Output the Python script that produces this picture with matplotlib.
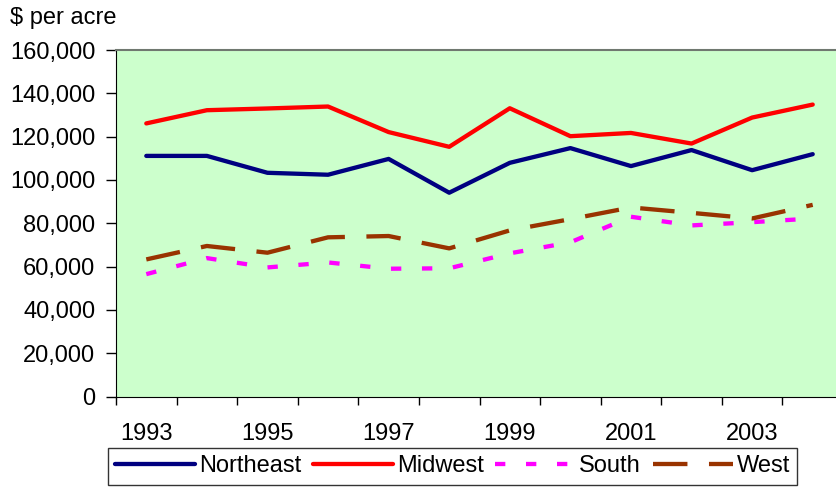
import numpy as np
import matplotlib.pyplot as plt

plt.rcParams['font.family'] = ['Liberation Sans', 'DejaVu Sans']

# данные: средняя стоимость земли, $ за акр
years = np.arange(1993, 2005)
northeast = [111100, 111100, 103300, 102400, 109700, 94100, 107900, 114700, 106400, 113800, 104500, 111900]
midwest = [126100, 132200, 133000, 133900, 122100, 115300, 133100, 120200, 121700, 116800, 128800, 134800]
south = [56500, 63900, 59600, 61900, 59000, 59200, 66100, 71200, 83000, 79000, 80500, 82200]
west = [63300, 69500, 66400, 73500, 74100, 68400, 76700, 81900, 87300, 84800, 82200, 88500]
year_labels = ['1993', '1995', '1997', '1999', '2001', '2003']

fig = plt.figure(figsize=(8.37, 4.87), dpi=100)
# правый край области графика выходит за пределы картинки, как в оригинале
ax = fig.add_axes([116 / 837, 90.5 / 487, 727 / 837, 346.5 / 487])
ax.set_facecolor('#CCFFCC')

lw = 3.1
ax.plot(years, northeast, color='#000080', lw=lw, label='Northeast', solid_capstyle='round')
ax.plot(years, midwest, color='#FF0000', lw=lw, label='Midwest', solid_capstyle='round')
ax.plot(years, south, color='#FF00FF', lw=lw, linestyle=(0, (2.4, 4.8)), label='South')
ax.plot(years, west, color='#993300', lw=lw, linestyle=(0, (8.0, 5.0)), label='West')

ax.set_xlim(1992.5, 2004.5)
ax.set_ylim(0, 160000)

# деления по границам категорий, подписи по центрам
ax.set_xticks(np.arange(1992.5, 2004.5, 1))
ax.set_xticklabels([])
ax.set_xticks([int(y) for y in year_labels], minor=True)
ax.set_xticklabels(year_labels, minor=True)
ax.tick_params(axis='x', which='major', direction='out', length=6, width=1)
ax.tick_params(axis='x', which='minor', length=0, pad=19, labelsize=17)

ax.set_yticks(np.arange(0, 160001, 20000))
ax.set_yticklabels([f'{v:,}' for v in range(0, 160001, 20000)])
ax.tick_params(axis='y', direction='out', length=7, width=1, pad=8, labelsize=17)

ax.spines['right'].set_visible(False)
ax.spines['top'].set_color('#707870')
ax.spines['top'].set_linewidth(1.5)
ax.spines['left'].set_color('black')
ax.spines['bottom'].set_color('black')

fig.text(10 / 837, 1 - 24 / 487, '$ per acre', fontsize=17, va='baseline', ha='left')

leg = fig.legend(loc='center', bbox_to_anchor=(452.5 / 837, 1 - 466.5 / 487), ncol=4,
                 fontsize=17, handlelength=3.4, handletextpad=0.15, columnspacing=0.5,
                 frameon=True, fancybox=False, borderpad=0.3, borderaxespad=0)
leg.get_frame().set_edgecolor('black')
leg.get_frame().set_linewidth(1)

plt.savefig('out.png', dpi=100)
